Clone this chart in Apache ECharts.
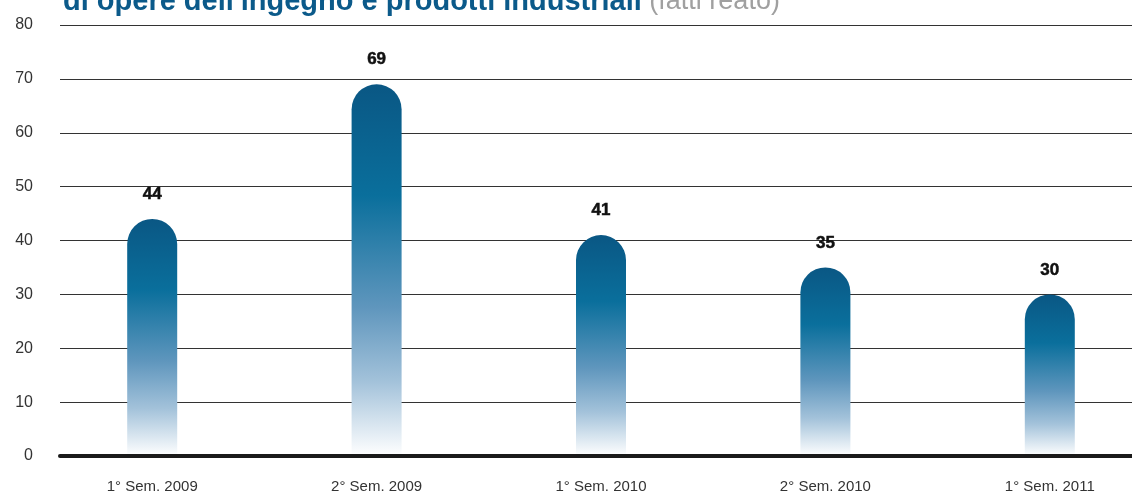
<!DOCTYPE html>
<html><head><meta charset="utf-8">
<script src="https://cdn.jsdelivr.net/npm/echarts@6/dist/echarts.min.js"></script>
<style>html,body{margin:0;padding:0;background:#fff}#c{width:1132px;height:492px}</style>
</head><body><div id="c"></div>
<script>
const categories = ['1° Sem. 2009', '2° Sem. 2009', '1° Sem. 2010', '2° Sem. 2010', '1° Sem. 2011'];
const values = [44, 69, 41, 35, 30];
const titleMain = "di opere dell'ingegno e prodotti industriali";
const titleSub = ' (fatti reato)';

const chart = echarts.init(document.getElementById('c'));
const grad = new echarts.graphic.LinearGradient(0, 0, 0, 1, [
  {offset: 0, color: '#0a5784'},
  {offset: 0.3, color: '#0a6f9c'},
  {offset: 0.6, color: '#5f96bd'},
  {offset: 0.8, color: '#a3c2da'},
  {offset: 1, color: '#ffffff'}
]);
chart.setOption({
  animation: false,
  title: {
    text: '{a|' + titleMain + '}{b|' + titleSub + '}',
    left: 58, top: -18,
    textStyle: {rich: {
      a: {fontFamily: 'Liberation Sans', fontWeight: 'bold', fontSize: 29, color: '#0b5a8a'},
      b: {fontFamily: 'Liberation Sans', fontWeight: 'normal', fontSize: 27, color: '#a0a0a0'}
    }}
  },
  grid: [
    {left: 60, right: 0, top: 25, bottom: 36, outerBoundsMode: 'none'},
    {left: 40, width: 1122, top: 25, bottom: 36, outerBoundsMode: 'none'}
  ],
  xAxis: [
    {gridIndex: 0, type: 'category', data: categories, z: 10,
     axisLine: {lineStyle: {color: '#1a1a1a', width: 4}},
     axisTick: {show: false}, axisLabel: {show: false}},
    {gridIndex: 1, type: 'category', data: categories,
     axisLine: {show: false}, axisTick: {show: false},
     axisLabel: {fontFamily: 'Liberation Sans', fontSize: 15, color: '#333', margin: 23}}
  ],
  yAxis: [
    {gridIndex: 0, type: 'value', min: 0, max: 80, interval: 10,
     axisLine: {show: false}, axisTick: {show: false},
     axisLabel: {fontFamily: 'Liberation Sans', fontSize: 16, color: '#333', margin: 27, padding: [2, 0, 0, 0]},
     splitLine: {lineStyle: {color: '#333', width: 1}}},
    {gridIndex: 1, type: 'value', min: 0, max: 80, interval: 10, show: false}
  ],
  series: [{
    type: 'bar', xAxisIndex: 1, yAxisIndex: 1, data: values, barWidth: 50,
    itemStyle: {color: grad, borderRadius: [25, 25, 0, 0]},
    label: {show: true, position: 'top', distance: 16,
      fontFamily: 'Liberation Sans', fontWeight: 'bold', fontSize: 17, color: '#111',
      textBorderColor: '#111', textBorderWidth: 0.5}
  }]
});
</script></body></html>
